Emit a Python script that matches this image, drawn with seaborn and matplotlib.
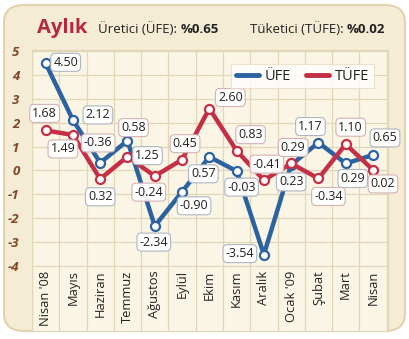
import matplotlib
matplotlib.use("Agg")
import matplotlib.pyplot as plt
from matplotlib.patches import FancyBboxPatch
from matplotlib.lines import Line2D
import seaborn as sns
import pandas as pd
import numpy as np

months = ["Nisan '08", "Mayıs", "Haziran", "Temmuz", "Ağustos", "Eylül", "Ekim",
          "Kasım", "Aralık", "Ocak '09", "Şubat", "Mart", "Nisan"]
ufe = [4.50, 2.12, 0.32, 1.25, -2.34, -0.90, 0.57, -0.03, -3.54, 0.23, 1.17, 0.29, 0.65]
tufe = [1.68, 1.49, -0.36, 0.58, -0.24, 0.45, 2.60, 0.83, -0.41, 0.29, -0.34, 1.10, 0.02]
ufe_labels = ["4.50", "2.12", "0.32", "1.25", "-2.34", "-0.90", "0.57", "-0.03", "-3.54", "0.23", "1.17", "0.29", "0.65"]
tufe_labels = ["1.68", "1.49", "-0.36", "0.58", "-0.24", "0.45", "2.60", "0.83", "-0.41", "0.29", "-0.34", "1.10", "0.02"]
yticks = [-4, -3, -2, -1, 0, 1, 2, 3, 4, 5]

# label offsets in pixels (style only)
ufe_off = [(20, 1), (25, 5), (0, -34), (20, -15), (-1, -16), (12, -14), (-6, -17),
           (5, -16), (-24, 1), (0, -17), (-8, 16), (7, -15), (12, 17)]
tufe_off = [(-1, 17), (-10, -14), (-2, 36), (6, 29), (-6, -16), (3, 16), (21, 11),
            (14, 16), (3, 16), (2, 16), (10, -18), (5, 17), (10, -14)]

BLUE = "#2b62a0"
RED = "#c42f45"
PANEL = "#f5ecd6"
GRID = "#e3d6b8"
BROWN = "#7f4726"

sns.set_theme(style="white")
plt.rcParams["font.family"] = ["Open Sans", "DejaVu Sans"]

df = pd.DataFrame({
    "x": list(range(len(months))) * 2,
    "val": ufe + tufe,
    "series": ["ÜFE"] * len(months) + ["TÜFE"] * len(months),
})

fig = plt.figure(figsize=(4.10, 3.39), dpi=100)
fig.patch.set_facecolor("white")
panel = FancyBboxPatch((4 / 410, 8 / 339), 401 / 410, 326 / 339,
                       boxstyle="round,pad=0,rounding_size=0.05",
                       transform=fig.transFigure, facecolor=PANEL,
                       edgecolor="#e2d3ae", linewidth=1.5, zorder=-5)
fig.patches.append(panel)

ax = fig.add_axes([32 / 410, 1 - 331 / 339, 356 / 410, 281 / 339])
ax.set_zorder(2)
ax.set_facecolor("#fbf5e6")
ax.set_xlim(-0.5, 12.55)
ax.set_ylim(-6.75, 5.06)

for v in yticks:
    ax.axhline(v, color=GRID, lw=0.9, zorder=0)
for i in range(len(months) + 1):
    ax.axvline(i - 0.5, color=GRID, lw=0.9, zorder=0)

sns.lineplot(data=df, x="x", y="val", hue="series", palette={"ÜFE": BLUE, "TÜFE": RED},
             hue_order=["ÜFE", "TÜFE"], marker="o", markersize=6.5, linewidth=3.2,
             markeredgewidth=1.6, ax=ax, legend=False, zorder=3)
for ln in ax.lines:
    c = ln.get_color()
    if ln.get_marker() == "o":
        ln.set_markerfacecolor("white")
        ln.set_markeredgecolor(c)
        ln.set_solid_capstyle("round")

for lbls, vals, offs, col in [(ufe_labels, ufe, ufe_off, "#a9b3bf"),
                              (tufe_labels, tufe, tufe_off, "#d3aeb2")]:
    for i, (t, v, o) in enumerate(zip(lbls, vals, offs)):
        ax.annotate(t, (i, v), xytext=o, textcoords="offset pixels", ha="center", va="center",
                    fontsize=9, color="#222222", zorder=5,
                    bbox=dict(boxstyle="round,pad=0.2,rounding_size=0.35", fc="white",
                              ec=col, lw=0.8, alpha=0.95))

for i, m in enumerate(months):
    ax.text(i, -4.2, m, rotation=90, ha="center", va="top", fontsize=9.3, color="#222222")

ax.set_xticks([])
ax.set_yticks(yticks)
ax.set_yticklabels([str(v) for v in yticks], fontsize=9.5, fontstyle="italic",
                   fontweight="bold", color=BROWN)
ax.tick_params(axis="y", length=0, pad=9)
ax.set_xlabel("")
ax.set_ylabel("")
for s in ax.spines.values():
    s.set_color(GRID)
    s.set_linewidth(0.9)

handles = [Line2D([0], [0], color=BLUE, lw=3.5, solid_capstyle="round"),
           Line2D([0], [0], color=RED, lw=3.5, solid_capstyle="round")]
leg = ax.legend(handles, ["ÜFE", "TÜFE"], loc="upper right", bbox_to_anchor=(0.98, 0.975),
                ncol=2, frameon=True, fontsize=10.5, handlelength=1.6, columnspacing=1.0,
                handletextpad=0.4, borderpad=0.3, fancybox=False)
leg.get_frame().set_facecolor("white")
leg.get_frame().set_edgecolor("#e8dcc0")
leg.get_frame().set_linewidth(0.8)
for t in leg.get_texts():
    t.set_color("#222222")

# header texts
yb = 1 - 33 / 339
fig.text(37 / 410, yb, "Aylık", fontsize=14.5, fontweight="bold", color="#b5283e",
         va="baseline")
fig.canvas.draw()
r = fig.canvas.get_renderer()
t1 = fig.text(98 / 410, yb, "Üretici (ÜFE): ", fontsize=9.5, color="#222222", va="baseline")
w1 = t1.get_window_extent(r).width
fig.text((98 + w1) / 410, yb, "%0.65", fontsize=9.5, fontweight="bold", color="#222222",
         va="baseline")
t2 = fig.text(250 / 410, yb, "Tüketici (TÜFE): ", fontsize=9.5, color="#222222", va="baseline")
w2 = t2.get_window_extent(r).width
fig.text((250 + w2) / 410, yb, "%0.02", fontsize=9.5, fontweight="bold", color="#222222",
         va="baseline")

fig.savefig("out.png", dpi=100, facecolor=fig.get_facecolor())
